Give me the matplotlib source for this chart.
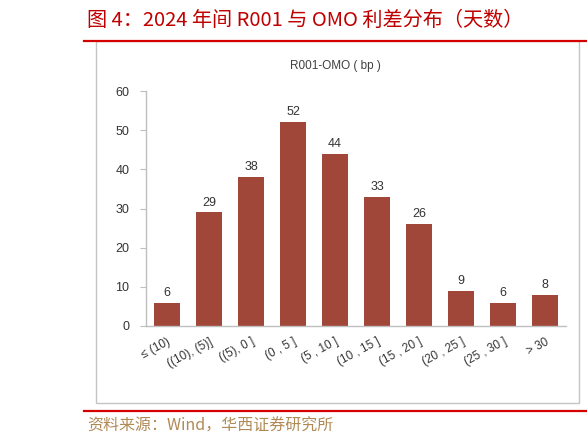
import matplotlib
matplotlib.use("Agg")
import matplotlib.pyplot as plt
from matplotlib.patches import Rectangle
from matplotlib.lines import Line2D

categories = ["≤ (10)", "((10), (5)]", "((5), 0 ]", "(0 , 5 ]", "(5 , 10 ]",
              "(10 , 15 ]", "(15 , 20 ]", "(20 , 25 ]", "(25 , 30 ]", "> 30"]
values = [6, 29, 38, 52, 44, 33, 26, 9, 6, 8]
yticks = [0, 10, 20, 30, 40, 50, 60]

W, H = 587, 446
fig = plt.figure(figsize=(W / 100, H / 100), dpi=100)
plt.rcParams['font.family'] = ['Liberation Sans', 'Noto Sans CJK SC', 'DejaVu Sans']

def fx(x):
    return x / W

def fy(y):
    return 1 - y / H

# outer gray box
fig.patches.append(Rectangle((fx(96), fy(403)), fx(579) - fx(96), fy(41) - fy(403),
                             transform=fig.transFigure, fill=False,
                             edgecolor='#c4c4c4', linewidth=1.0))
# red lines
fig.add_artist(Line2D([fx(84), 1.0], [fy(40.5), fy(40.5)], transform=fig.transFigure,
                      color='#d40000', linewidth=1.6))
fig.add_artist(Line2D([fx(84), 1.0], [fy(410.5), fy(410.5)], transform=fig.transFigure,
                      color='#d40000', linewidth=1.6))

# title
fig.text(fx(87), fy(20), "图 4：2024 年间 R001 与 OMO 利差分布（天数）",
         family=['Noto Sans CJK SC', 'DejaVu Sans'], fontsize=14.5, color='#c00000',
         ha='left', va='center')
# source
fig.text(fx(87), fy(426), "资料来源：Wind，华西证券研究所",
         family=['Noto Sans CJK SC', 'DejaVu Sans'], fontsize=11.5, color='#b08a55',
         ha='left', va='center')

ax = fig.add_axes([fx(146), fy(326), fx(566) - fx(146), fy(91) - fy(326)])
x = list(range(len(categories)))
bars = ax.bar(x, values, width=0.6, color='#a0473a', zorder=2)
for xi, v in zip(x, values):
    ax.text(xi, v + 1.0, str(v), ha='center', va='bottom', fontsize=9, color='#333333')

ax.set_xlim(-0.5, len(categories) - 0.5)
ax.set_ylim(0, 60)
ax.set_yticks(yticks)
ax.set_yticklabels([str(t) for t in yticks], fontsize=9, color='#333333')
ax.set_xticks(x)
ax.set_xticklabels(categories, fontsize=8.5, color='#333333', rotation=28,
                   ha='right', va='top', rotation_mode='anchor')
ax.tick_params(axis='x', length=0, pad=7)
ax.tick_params(axis='y', length=4, color='#bfbfbf', pad=8)
for s in ['top', 'right']:
    ax.spines[s].set_visible(False)
for s in ['left', 'bottom']:
    ax.spines[s].set_color('#bfbfbf')
    ax.spines[s].set_linewidth(1.0)

ax.set_title("R001-OMO ( bp )", fontsize=8.5, color='#404040', pad=16, x=0.45)

fig.savefig("out.png", dpi=100)
